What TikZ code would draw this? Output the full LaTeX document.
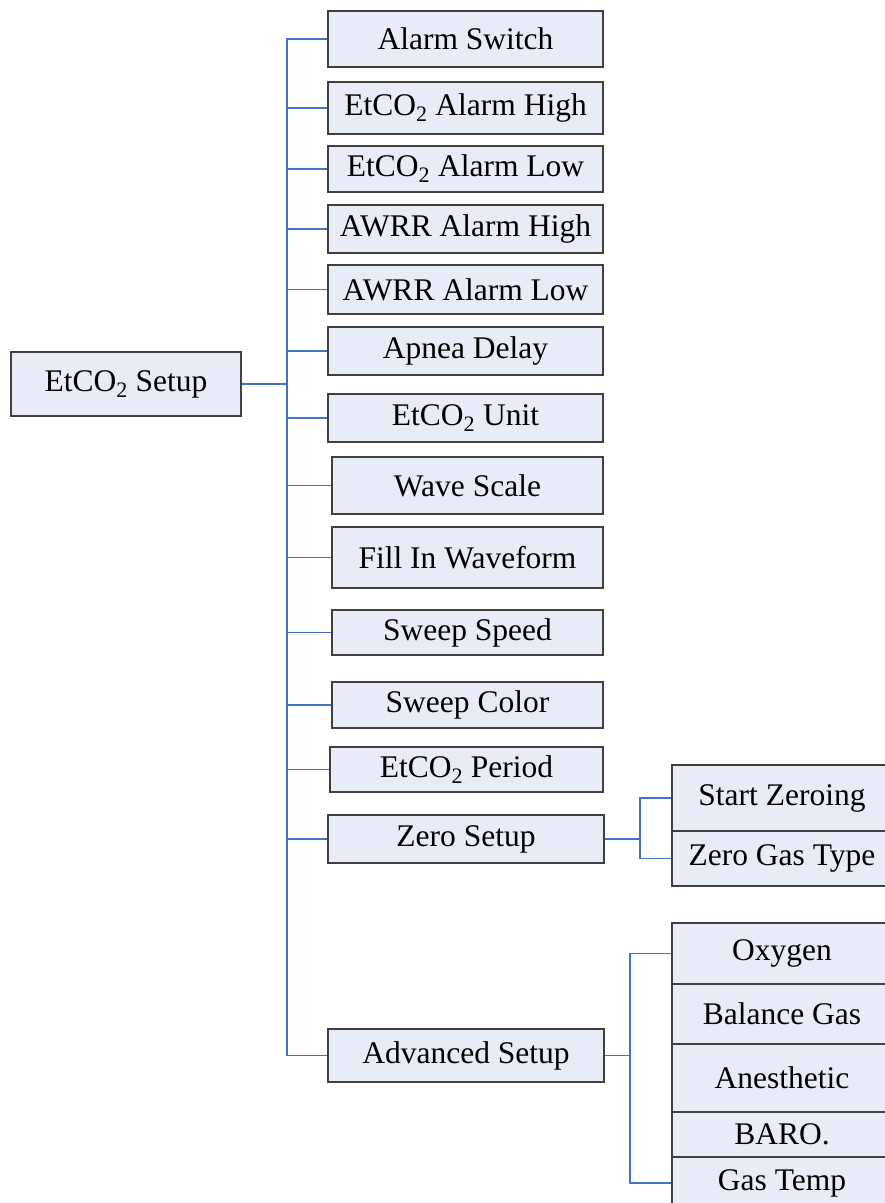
\documentclass[tikz,border=0pt]{standalone}
\usepackage{fontspec}
\setmainfont{Liberation Serif}
\definecolor{boxfill}{RGB}{231,236,246}
\definecolor{boxline}{RGB}{64,64,64}
\definecolor{conn}{RGB}{68,114,196}
\newcommand\bx[6]{\node[box, minimum width={(#4-#2)*1pt}, minimum height={(#5-#3)*1pt}] (#1) at ({(#2+#4)/2},{(#3+#5)/2}) {#6};}
\newcommand\cotwo{CO\textsubscript{2}}
\begin{document}
\begin{tikzpicture}[x=1pt,y=-1pt,
  box/.style={draw=boxline, fill=boxfill, line width=1.2pt, inner sep=0pt, font=\fontsize{31.5}{36}\selectfont},
  link/.style={draw=conn, line width=1.1pt}]
\useasboundingbox (0,0) rectangle (885,1203);
\clip (0,0) rectangle (885,1203);
\fill[white] (0,0) rectangle (885,1203);
% root
\bx{root}{11}{352}{241}{416}{Et\cotwo{} Setup}
% children
\bx{a1}{328}{11}{603}{67}{Alarm Switch}
\bx{a2}{328}{82}{603}{134}{Et\cotwo{} Alarm High}
\bx{a3}{328}{146}{603}{192}{Et\cotwo{} Alarm Low}
\bx{a4}{328}{205}{603}{253}{AWRR Alarm High}
\bx{a5}{328}{265}{603}{314}{AWRR Alarm Low}
\bx{a6}{328}{327}{603}{375}{Apnea Delay}
\bx{a7}{328}{394}{603}{442}{Et\cotwo{} Unit}
\bx{a8}{332}{457}{603}{514}{Wave Scale}
\bx{a9}{332}{527}{603}{588}{Fill In Waveform}
\bx{a10}{332}{610}{603}{655}{Sweep Speed}
\bx{a11}{332}{682}{603}{728}{Sweep Color}
\bx{a12}{330}{747}{603}{792}{Et\cotwo{} Period}
\bx{a13}{328}{815}{604}{863}{Zero Setup}
\bx{a14}{328}{1029}{604}{1082}{Advanced Setup}
% zero setup children
\bx{z1}{672}{765}{892}{831}{Start Zeroing}
\bx{z2}{672}{831}{892}{886}{Zero Gas Type}
% advanced children
\bx{v1}{672}{923}{892}{984}{Oxygen}
\bx{v2}{672}{984}{892}{1044}{Balance Gas}
\bx{v3}{672}{1044}{892}{1112}{Anesthetic}
\bx{v4}{672}{1112}{892}{1157}{BARO.}
\bx{v5}{672}{1157}{892}{1209}{Gas Temp}
% connectors
\coordinate (bus) at (287,0);
\coordinate (zb) at (640,0);
\coordinate (vb) at (630,0);
\draw[link] (a1.west) -- (a1.west -| bus) -- (a14.west -| bus) -- (a14.west);
\draw[link] (root.east) -- (root.east -| bus);
\foreach \n in {a2,a3,a4,a5,a6,a7,a8,a9,a10,a11,a12,a13}
  \draw[link] (\n.west -| bus) -- (\n.west);
\draw[link] (a13.east) -- (a13.east -| zb);
\draw[link] (z1.west) -- (z1.west -| zb) -- (z2.west -| zb) -- (z2.west);
\draw[link] (a14.east) -- (a14.east -| vb);
\draw[link] (v1.west) -- (v1.west -| vb) -- (v5.west -| vb) -- (v5.west);
\end{tikzpicture}
\end{document}
